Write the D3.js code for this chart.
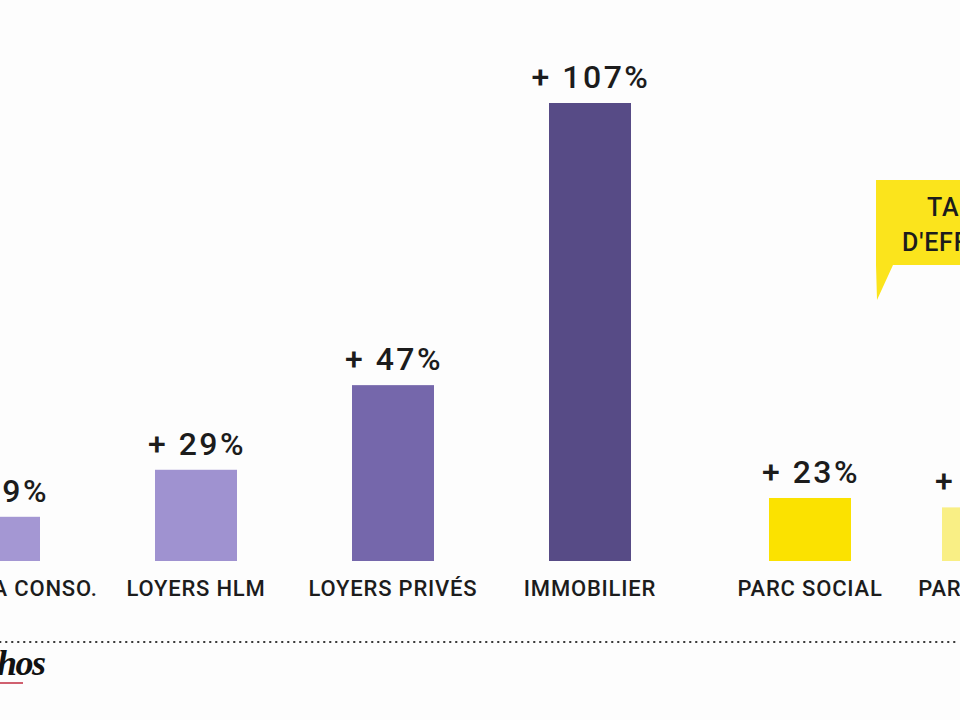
<!DOCTYPE html>
<html>
<head>
<meta charset="utf-8">
<script src="https://cdn.jsdelivr.net/npm/d3@7"></script>
<style>
  html, body { margin: 0; padding: 0; background: #fdfdfd; overflow: hidden; }
  svg { display: block; }
</style>
</head>
<body>
<svg id="chart" width="960" height="720"></svg>
<script>
// ---- data ----
const purpleCategories = ["PRIX À LA CONSO.", "LOYERS HLM", "LOYERS PRIVÉS", "IMMOBILIER"];
const purpleValues = [19, 29, 47, 107];
const purpleColors = ["#a497d3", "#9f92d0", "#7567ab", "#574b86"];

const yellowCategories = ["PARC SOCIAL", "PARC PRIVÉ"];
const yellowValues = [23, 21];
const yellowColors = ["#fbe200", "#f9ef85"];

const bubbleLines = ["TAUX", "D'EFFORT"];

// ---- layout ----
const svg = d3.select("#chart");
const W = 960, H = 720;
svg.append("rect").attr("width", W).attr("height", H).attr("fill", "#fdfdfd");

const y = d3.scaleLinear().domain([9.6, 107]).range([561, 103]);
const barW = 82;

const xPurple = d3.scalePoint().domain(purpleCategories).range([-1, 590]);
const xYellow = d3.scalePoint().domain(yellowCategories).range([810, 983]);

const fmt = v => "+ " + d3.format("d")(v) + "%";

function drawGroup(cats, vals, cols, x) {
  const data = cats.map((c, i) => ({ c, v: vals[i], col: cols[i] }));
  const g = svg.append("g");
  g.selectAll("rect.bar").data(data).join("rect")
    .attr("class", "bar")
    .attr("x", d => x(d.c) - barW / 2)
    .attr("width", barW)
    .attr("y", d => y(d.v))
    .attr("height", d => y.range()[0] - y(d.v))
    .attr("fill", d => d.col);
  g.selectAll("text.val").data(data).join("text")
    .attr("class", "val")
    .attr("x", d => x(d.c) + 1)
    .attr("y", d => y(d.v) - 15)
    .attr("text-anchor", "middle")
    .attr("font-family", "Roboto, 'DejaVu Sans', sans-serif")
    .attr("font-weight", 500)
    .attr("font-size", 32)
    .attr("letter-spacing", 2.5)
    .attr("fill", "#1c1c1c")
    .text(d => fmt(d.v));
  g.selectAll("text.cat").data(data).join("text")
    .attr("class", "cat")
    .attr("x", d => x(d.c))
    .attr("y", 596)
    .attr("text-anchor", "middle")
    .attr("font-family", "Roboto, 'DejaVu Sans', sans-serif")
    .attr("font-weight", 500)
    .attr("font-size", 22)
    .attr("letter-spacing", 0.8)
    .attr("fill", "#1c1c1c")
    .text(d => d.c);
}
drawGroup(purpleCategories, purpleValues, purpleColors, xPurple);
drawGroup(yellowCategories, yellowValues, yellowColors, xYellow);

// speech bubble
const bubble = d3.path();
bubble.moveTo(876, 180);
bubble.lineTo(965, 180);
bubble.lineTo(965, 265);
bubble.lineTo(893, 265);
bubble.lineTo(877, 300);
bubble.lineTo(876, 265);
bubble.closePath();
svg.append("path").attr("d", bubble.toString()).attr("fill", "#fbe41c");
svg.selectAll("text.bub").data(bubbleLines).join("text")
  .attr("class", "bub")
  .attr("x", 960)
  .attr("y", (d, i) => 216 + i * 35)
  .attr("text-anchor", "middle")
  .attr("font-family", "Roboto, 'DejaVu Sans', sans-serif")
  .attr("font-weight", 500)
  .attr("font-size", 25)
  .attr("letter-spacing", 0.8)
  .attr("fill", "#1c1c1c")
  .text(d => d);

// dotted separator
svg.append("line")
  .attr("x1", 0).attr("x2", W)
  .attr("y1", 642).attr("y2", 642)
  .attr("stroke", "#333")
  .attr("stroke-width", 2)
  .attr("stroke-linecap", "round")
  .attr("stroke-dasharray", "0.5 5.5");

// logo fragment
svg.append("text")
  .attr("x", -3).attr("y", 675)
  .attr("font-family", "'Liberation Serif', 'DejaVu Serif', serif")
  .attr("font-style", "italic")
  .attr("font-weight", 700)
  .attr("font-size", 36)
  .attr("letter-spacing", -1.5)
  .attr("fill", "#111")
  .text("hos");
svg.append("line")
  .attr("x1", 0).attr("x2", 23)
  .attr("y1", 683).attr("y2", 683)
  .attr("stroke", "#d0606f").attr("stroke-width", 2);
</script>
</body>
</html>
